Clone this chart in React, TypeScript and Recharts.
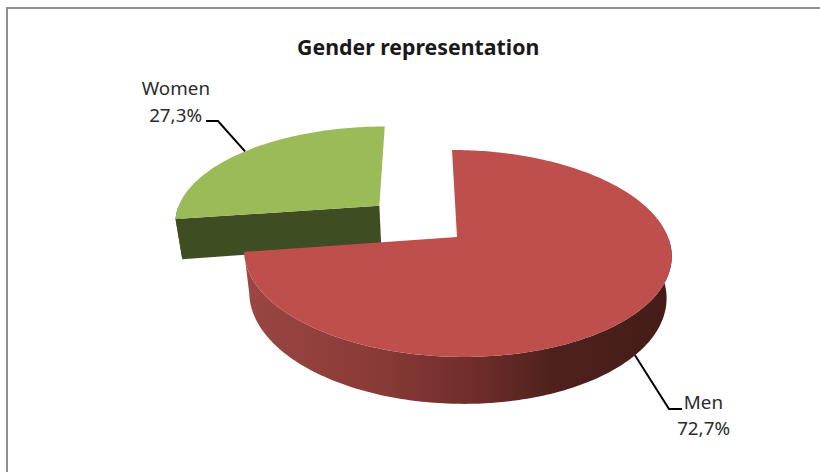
import { PieChart, Pie, Cell } from 'recharts';

const categories = ['Women', 'Men'];
const shares = [27.3, 72.7];
const topColors = ['#9BBB59', '#BE4F4C'];
const wallColors = ['#3F4D22', 'url(#menWall)'];

const pieData = categories.map((name, i) => ({ name, value: shares[i] }));

// flat pie -> perspective ground plane, tuned by eye against the reference
const TILT = 0.478; // vertical squash
const PERSP = 0.159; // far side shrinks
const SHEAR = 5.8;
const DEPTH = 41;
const FLOOR_SCALE = 0.976;
const EXPLODE = 0.5; // only the smaller slice is pulled out

const RAD = Math.PI / 180;

function project(cx: number, cy: number, r: number, u: number, v: number, floor = false) {
  const d = 1 + PERSP * v;
  const k = floor ? FLOOR_SCALE : 1;
  const x = cx + (k * (r * u - SHEAR * v)) / d;
  const y = cy + (-r * TILT * v * (floor ? 0.985 : 1) + (floor ? DEPTH : 0)) / d;
  return [x, y];
}

function rimPoint(cx: number, cy: number, r: number, angle: number, off: number[], floor = false) {
  return project(cx, cy, r, Math.cos(angle * RAD) + off[0], Math.sin(angle * RAD) + off[1], floor);
}

function offsetFor(name: string, midAngle: number) {
  if (name !== 'Women') return [0, 0];
  return [EXPLODE * Math.cos(midAngle * RAD), EXPLODE * Math.sin(midAngle * RAD)];
}

function sweep(from: number, to: number) {
  const out: number[] = [];
  const n = Math.ceil(Math.abs(to - from));
  for (let i = 0; i <= n; i++) out.push(from + ((to - from) * i) / n);
  return out;
}

const toPath = (pts: number[][]) => 'M' + pts.map(p => `${p[0].toFixed(2)},${p[1].toFixed(2)}`).join('L') + 'Z';

function SliceShape(props: any) {
  const { cx, cy, outerRadius, startAngle, endAngle, midAngle, name, fill } = props;
  const i = categories.indexOf(name);
  const off = offsetFor(name, midAngle);
  const angles = sweep(startAngle, endAngle);
  const apex = project(cx, cy, outerRadius, off[0], off[1]);
  const apexFloor = project(cx, cy, outerRadius, off[0], off[1], true);
  const rim = angles.map(a => rimPoint(cx, cy, outerRadius, a, off));
  // only the part of the rim that faces the viewer gets a wall
  const front = angles.filter(a => Math.sin(a * RAD) <= 0);
  const frontTop = front.map(a => rimPoint(cx, cy, outerRadius, a, off));
  const frontFloor = front.map(a => rimPoint(cx, cy, outerRadius, a, off, true));
  return (
    <g>
      <path d={toPath([...frontTop, ...frontFloor.reverse()])} fill={wallColors[i]} />
      {name === 'Women' && (
        <path d={toPath([apex, rim[0], rimPoint(cx, cy, outerRadius, startAngle, off, true), apexFloor])} fill={wallColors[i]} />
      )}
      <path d={toPath([apex, ...rim])} fill={fill} />
    </g>
  );
}

const labelSpots: Record<string, { elbow: number[]; end: number[]; nameAt: number[]; pctAt: number[] }> = {
  Women: { elbow: [218, 121], end: [206, 121], nameAt: [210, 95], pctAt: [202, 122] },
  Men: { elbow: [669, 409], end: [682, 409], nameAt: [723, 409], pctAt: [730, 435] },
};

function SliceLabel(props: any) {
  const { cx, cy, outerRadius, midAngle, name, value } = props;
  const spot = labelSpots[name];
  const off = offsetFor(name, midAngle);
  const start = rimPoint(cx, cy, outerRadius, midAngle, off, name === 'Men');
  return (
    <g>
      <polyline
        points={[start, spot.elbow, spot.end].map(p => p.join(',')).join(' ')}
        fill="none"
        stroke="#000000"
        strokeWidth={2}
      />
      <text x={spot.nameAt[0]} y={spot.nameAt[1]} textAnchor="end" fontSize={18.8} fill="#2b2b2b" fontFamily="Noto Sans">
        {name}
      </text>
      <text x={spot.pctAt[0]} y={spot.pctAt[1]} textAnchor="end" fontSize={18.8} fill="#2b2b2b" fontFamily="Noto Sans">
        {value.toFixed(1).replace('.', ',')}%
      </text>
    </g>
  );
}

export default function App() {
  const firstSlice = (shares[0] / 100) * 360;
  return (
    <div style={{ position: 'absolute', left: 0, top: 0, width: 820, height: 472, background: '#fff', overflow: 'hidden' }}>
      <div style={{ position: 'absolute', left: 6, top: 7, width: 820, height: 470, borderLeft: '2px solid #8f8f8f', borderTop: '2px solid #8f8f8f', boxSizing: 'border-box' }} />
      <div style={{ position: 'absolute', left: 297, top: 33, whiteSpace: 'nowrap', fontFamily: 'Noto Sans', fontWeight: 700, fontSize: 21.3, lineHeight: '28px', color: '#1a1a1a' }}>
        Gender representation
      </div>
      <div style={{ position: 'absolute', left: 0, top: 0 }}>
        <PieChart width={820} height={472} margin={{ top: 0, right: 0, bottom: 0, left: 0 }}>
          <defs>
            <linearGradient id="menWall" gradientUnits="userSpaceOnUse" x1={246} y1={0} x2={672} y2={0}>
              <stop offset="0%" stopColor="#9A4643" />
              <stop offset="30%" stopColor="#8A3B37" />
              <stop offset="55%" stopColor="#6E2C29" />
              <stop offset="72%" stopColor="#4E211D" />
              <stop offset="100%" stopColor="#451C19" />
            </linearGradient>
          </defs>
          <Pie
            data={pieData}
            dataKey="value"
            nameKey="name"
            cx={457}
            cy={237}
            outerRadius={211}
            startAngle={90 + firstSlice}
            endAngle={90 + firstSlice - 360}
            stroke="none"
            shape={SliceShape}
            label={SliceLabel}
            labelLine={false}
            isAnimationActive={false}
          >
            {pieData.map((d, i) => (
              <Cell key={d.name} fill={topColors[i]} />
            ))}
          </Pie>
        </PieChart>
      </div>
    </div>
  );
}
